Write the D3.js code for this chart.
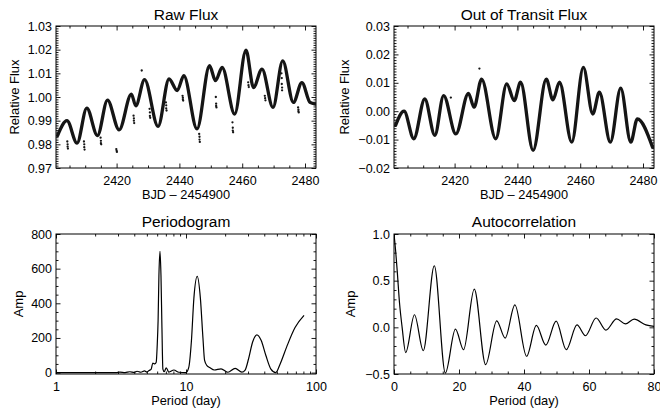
<!DOCTYPE html>
<html><head><meta charset="utf-8">
<script src="https://cdn.jsdelivr.net/npm/d3@7"></script>
<style>
body{margin:0;background:#fff}
svg{display:block}
text{font-family:"Liberation Sans",Arial,Helvetica,sans-serif;fill:#000}
</style>
</head><body>
<svg id="c" width="660" height="413"></svg>
<script>
// ---------- DATA ----------
// Raw flux: smooth light-curve control points (BJD-2454900, relative flux)
const rawT = [2401.2, 2404.2, 2407.4, 2410.5, 2413.9, 2417.1, 2420.8, 2424.7, 2426.1, 2428.9, 2433.2, 2436.7, 2439.3, 2441.4, 2445.6, 2449.6, 2451.5, 2453.6, 2457.6, 2461.2, 2463.6, 2466.3, 2469.8, 2472.9, 2476.3, 2479.0, 2481.6, 2483.3];
const rawF = [0.9837, 0.9900, 0.9805, 0.9953, 0.9837, 0.9987, 0.9861, 1.0012, 0.9963, 1.0073, 0.9876, 1.0076, 1.0027, 1.0090, 0.9865, 1.0132, 1.0069, 1.0125, 0.9928, 1.0198, 1.0040, 1.0118, 0.9956, 1.0153, 0.9977, 1.0061, 0.9977, 0.9970];
// In-transit / outlier points of the raw flux
const trT = [2404.3,2404.4,2404.4,2404.5, 2409.6,2409.7,2409.7,2409.8, 2414.9,2415.0,2415.0,2415.1, 2419.9,2420.0,2420.1, 2425.4,2425.5,2425.5,2425.6, 2430.5,2430.6,2430.6,2430.7, 2435.7,2435.8,2435.8,2435.9, 2441.0,2441.1,2441.1,2441.2, 2446.3,2446.4,2446.4,2446.5, 2451.6,2451.7,2451.7,2451.8, 2456.9,2457.0,2457.0,2457.1, 2461.9,2462.0,2462.1, 2467.2,2467.3,2467.4, 2472.5,2472.6,2472.6,2472.7,2472.7, 2477.8,2477.9,2477.9,2478.0, 2428.0];
const trF = [0.9812,0.9800,0.9790,0.9782, 0.9812,0.9800,0.9788,0.9778, 0.9828,0.9815,0.9805,0.9800, 0.9780,0.9773,0.9768, 0.9921,0.9910,0.9900,0.9890, 0.9950,0.9935,0.9920,0.9912, 0.9977,0.9965,0.9952,0.9943, 1.0005,0.9997,0.9990,0.9985, 0.9844,0.9832,0.9820,0.9810, 1.0000,0.9972,0.9962,0.9956, 0.9893,0.9870,0.9858,0.9851, 1.0062,1.0050,1.0042, 1.0005,0.9995,0.9986, 1.0100,1.0080,1.0055,1.0040,1.0028, 0.9956,0.9947,0.9940,0.9935, 1.0112];
// Out-of-transit (detrended) flux control points
const ootT = [2401.2, 2403.9, 2407.0, 2410.5, 2413.7, 2416.5, 2420.4, 2424.4, 2426.2, 2428.6, 2433.1, 2436.6, 2439.0, 2441.0, 2445.0, 2449.2, 2451.3, 2453.4, 2457.3, 2461.0, 2464.0, 2466.1, 2469.6, 2472.9, 2476.1, 2478.2, 2483.0];
const ootF = [-0.0050, 0.0000, -0.0097, 0.0043, -0.0085, 0.0055, -0.0080, 0.0063, 0.0014, 0.0113, -0.0097, 0.0096, 0.0037, 0.0102, -0.0138, 0.0113, 0.0040, 0.0102, -0.0109, 0.0154, -0.0010, 0.0067, -0.0109, 0.0081, -0.0109, -0.0027, -0.0126];
const ootOutT = [2427.9, 2418.8];
const ootOutF = [0.0150, 0.0048];
// Periodogram (period in days, amplitude)
const perP = [1.0, 2.0, 2.9, 3.1, 3.4, 3.7, 4.0, 4.2, 4.5, 4.8, 5.0, 5.2, 5.4, 5.55, 5.75, 5.9, 6.0, 6.1, 6.19, 6.31, 6.42, 6.53, 6.64, 6.8, 7.05, 7.38, 8.07, 8.81, 10.0, 10.5, 11.0, 11.5, 12.2, 12.9, 13.5, 13.9, 14.5, 15.3, 16.5, 18.6, 21.0, 23.9, 26.9, 28.5, 30.3, 32.5, 35.1, 37.9, 41.1, 45.0, 49.0, 53.0, 59.6, 69.0, 80.9];
const perA = [0, 0, 0, 3, 0, 5, 1, 8, 2, 10, 3, 12, 20, 55, 50, 60, 150, 300, 560, 700, 560, 260, 20, 5, 28, 3, 15, 2, 0, 30, 180, 430, 555, 430, 200, 70, 40, 28, 15, 22, 2, 25, 3, 15, 80, 175, 218, 185, 100, 20, 0, 50, 150, 260, 330];
// Autocorrelation (lag in days, amplitude)
const acL = [0, 0.5, 1.0, 1.7, 2.5, 3.6, 6.3, 9.0, 12.4, 15.8, 18.9, 21.4, 24.7, 28.2, 31.6, 34.2, 37.2, 40.8, 43.8, 46.7, 49.9, 53.0, 56.3, 58.9, 62.2, 65.2, 68.5, 71.2, 73.9, 77.5, 80];
const acV = [1.0, 0.82, 0.6, 0.26, 0.0, -0.27, 0.135, -0.25, 0.66, -0.49, -0.02, -0.24, 0.41, -0.40, 0.07, -0.115, 0.24, -0.31, 0.02, -0.19, 0.066, -0.24, 0.026, -0.09, 0.10, -0.03, 0.09, 0.037, 0.088, 0.026, 0.01];

// Tick values
const fluxTicks = [0.97, 0.98, 0.99, 1.00, 1.01, 1.02, 1.03];
const ootTicks = [-0.02, -0.01, 0.00, 0.01, 0.02, 0.03];
const bjdTicks = [2420, 2440, 2460, 2480];
const perXTicks = [1, 10, 100];
const perYTicks = [0, 200, 400, 600, 800];
const acXTicks = [0, 20, 40, 60, 80];
const acYTicks = [-0.5, 0.0, 0.5, 1.0];

// ---------- DRAWING ----------
const svg = d3.select("#c");
const TICK = 12.5;

function range(a, b, s) { const out = []; for (let v = a; v <= b + s * 1e-6; v += s) out.push(+v.toFixed(6)); return out; }
function minors(all, majors) { return all.filter(v => !majors.some(m => Math.abs(m - v) < 1e-9)); }

function panel(o) {
  const g = svg.append("g");
  const {x0, x1, y0, y1, x, y} = o;
  g.append("rect").attr("x", x0).attr("y", y0).attr("width", x1 - x0).attr("height", y1 - y0)
    .attr("fill", "none").attr("stroke", "#000").attr("stroke-width", 1);
  const mk = (axisFn, scale, ticks, size, fmt, tx, ty, pad) => {
    const a = axisFn(scale).tickValues(ticks).tickSize(size).tickSizeOuter(0).tickPadding(pad || 3);
    a.tickFormat(fmt || (() => ""));
    const ag = g.append("g").attr("transform", `translate(${tx},${ty})`).call(a);
    ag.select(".domain").remove();
    ag.selectAll("line").attr("stroke", "#000").attr("stroke-width", 0.9);
    ag.selectAll("text").attr("font-size", TICK).attr("font-family", "Liberation Sans, Arial, sans-serif");
    return ag;
  };
  mk(d3.axisBottom, x, o.xMajor, -4.5, o.xFmt, 0, y1, 7.8);
  mk(d3.axisBottom, x, o.xMinor, -2.5, null, 0, y1);
  mk(d3.axisTop, x, o.xMajor, -4.5, null, 0, y0);
  mk(d3.axisTop, x, o.xMinor, -2.5, null, 0, y0);
  mk(d3.axisLeft, y, o.yMajor, -4.5, o.yFmt, x0, 0, 4);
  mk(d3.axisLeft, y, o.yMinor, -2.5, null, x0, 0);
  mk(d3.axisRight, y, o.yMajor, -4.5, null, x1, 0);
  mk(d3.axisRight, y, o.yMinor, -2.5, null, x1, 0);
  g.append("text").attr("x", (x0 + x1) / 2).attr("y", o.titleY).attr("text-anchor", "middle")
    .attr("font-size", 15.5).text(o.title);
  g.append("text").attr("x", (x0 + x1) / 2).attr("y", y1 + 31.2).attr("text-anchor", "middle")
    .attr("font-size", 12.8).text(o.xTitle);
  g.append("text").attr("transform", `translate(${o.yTitleX},${(y0 + y1) / 2}) rotate(-90)`)
    .attr("text-anchor", "middle").attr("dy", "0.35em").attr("font-size", 13).text(o.yTitle);
  const id = "clip" + Math.round(x0) + Math.round(y0);
  svg.append("clipPath").attr("id", id).append("rect").attr("x", x0).attr("y", y0).attr("width", x1 - x0).attr("height", y1 - y0);
  return svg.append("g").attr("clip-path", `url(#${id})`);
}

// Panel 1: Raw Flux
{
  const x = d3.scaleLinear().domain([2400.7, 2483.5]).range([56, 316]);
  const y = d3.scaleLinear().domain([0.97, 1.03]).range([168, 26]);
  const p = panel({x0: 56, x1: 316, y0: 26, y1: 168, x, y,
    xMajor: bjdTicks, xMinor: minors(range(2405, 2480, 5), bjdTicks), xFmt: d3.format("d"),
    yMajor: fluxTicks, yMinor: minors(range(0.97, 1.03, 0.001), fluxTicks), yFmt: d3.format(".2f"),
    title: "Raw Flux", titleY: 20, xTitle: "BJD \u2013 2454900", yTitle: "Relative Flux", yTitleX: 14});
  const pts = rawT.map((t, i) => [t, rawF[i]]);
  p.append("path").datum(pts).attr("fill", "none").attr("stroke", "#151515").attr("stroke-width", 3.3)
    .attr("stroke-linecap", "round")
    .attr("d", d3.line().x(d => x(d[0])).y(d => y(d[1])).curve(d3.curveMonotoneX));
  p.selectAll("circle.t").data(trT.map((t, i) => [t, trF[i]])).join("circle")
    .attr("cx", d => x(d[0])).attr("cy", d => y(d[1])).attr("r", 1.15).attr("fill", "#151515");
}

// Panel 2: Out of Transit Flux
{
  const x = d3.scaleLinear().domain([2400.7, 2483.5]).range([394, 654]);
  const y = d3.scaleLinear().domain([-0.02, 0.03]).range([168, 26]);
  const p = panel({x0: 394, x1: 654, y0: 26, y1: 168, x, y,
    xMajor: bjdTicks, xMinor: minors(range(2405, 2480, 5), bjdTicks), xFmt: d3.format("d"),
    yMajor: ootTicks, yMinor: minors(range(-0.02, 0.03, 0.001), ootTicks), yFmt: d3.format(".2f"),
    title: "Out of Transit Flux", titleY: 20, xTitle: "BJD \u2013 2454900", yTitle: "Relative Flux", yTitleX: 344});
  const pts = ootT.map((t, i) => [t, ootF[i]]);
  p.append("path").datum(pts).attr("fill", "none").attr("stroke", "#151515").attr("stroke-width", 3.3)
    .attr("stroke-linecap", "round")
    .attr("d", d3.line().x(d => x(d[0])).y(d => y(d[1])).curve(d3.curveMonotoneX));
  p.selectAll("circle.o").data(ootOutT.map((t, i) => [t, ootOutF[i]])).join("circle")
    .attr("cx", d => x(d[0])).attr("cy", d => y(d[1])).attr("r", 1.15).attr("fill", "#151515");
}

// Panel 3: Periodogram
{
  const x = d3.scaleLog().domain([1, 100]).range([56, 316]);
  const y = d3.scaleLinear().domain([-8, 800]).range([374, 234]);
  const minorX = [2,3,4,5,6,7,8,9,20,30,40,50,60,70,80,90];
  const p = panel({x0: 56, x1: 316, y0: 234, y1: 374, x, y,
    xMajor: perXTicks, xMinor: minorX, xFmt: d3.format("d"),
    yMajor: perYTicks, yMinor: minors(range(0, 800, 50), perYTicks), yFmt: d3.format("d"),
    title: "Periodogram", titleY: 227, xTitle: "Period (day)", yTitle: "Amp", yTitleX: 18});
  const pts = perP.map((t, i) => [t, perA[i]]);
  p.append("path").datum(pts).attr("fill", "none").attr("stroke", "#000").attr("stroke-width", 1.2)
    .attr("d", d3.line().x(d => x(d[0])).y(d => y(d[1])).curve(d3.curveMonotoneX));
}

// Panel 4: Autocorrelation
{
  const x = d3.scaleLinear().domain([0, 80]).range([394, 654]);
  const y = d3.scaleLinear().domain([-0.5, 1.0]).range([374, 234]);
  const p = panel({x0: 394, x1: 654, y0: 234, y1: 374, x, y,
    xMajor: acXTicks, xMinor: minors(range(0, 80, 5), acXTicks), xFmt: d3.format("d"),
    yMajor: acYTicks, yMinor: minors(range(-0.5, 1.0, 0.1), acYTicks), yFmt: d3.format(".1f"),
    title: "Autocorrelation", titleY: 227, xTitle: "Period (day)", yTitle: "Amp", yTitleX: 350});
  const pts = acL.map((t, i) => [t, acV[i]]);
  p.append("path").datum(pts).attr("fill", "none").attr("stroke", "#000").attr("stroke-width", 1.2)
    .attr("d", d3.line().x(d => x(d[0])).y(d => y(d[1])).curve(d3.curveMonotoneX));
}
</script>
</body></html>
